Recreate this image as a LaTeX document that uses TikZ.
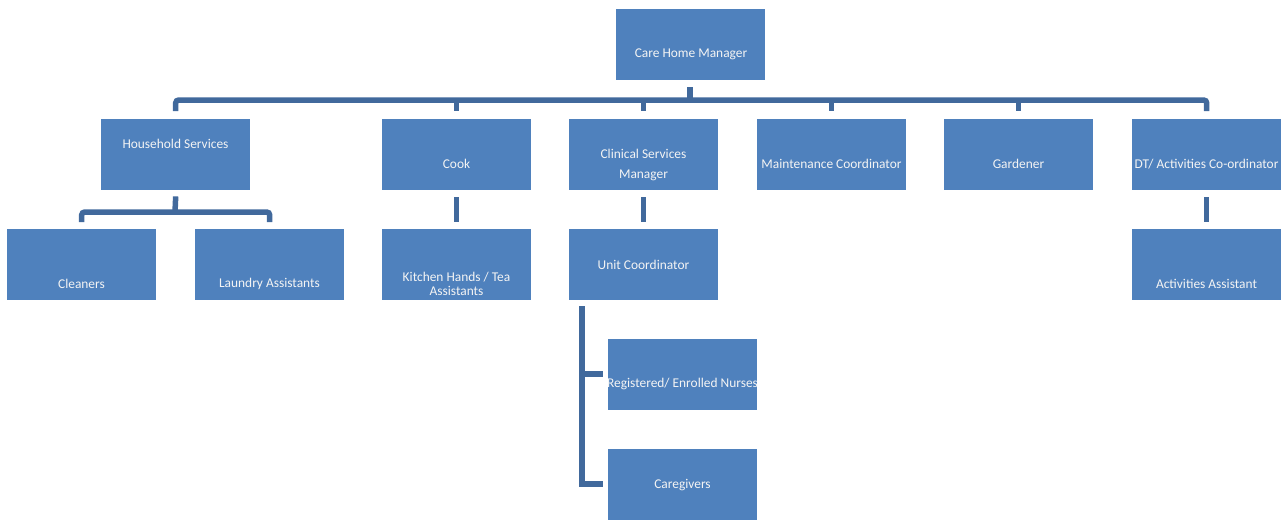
\documentclass[tikz,border=0pt]{standalone}
\usepackage{fontspec}
\setmainfont{Carlito}
\definecolor{boxblue}{HTML}{4F81BD}
\definecolor{linkblue}{HTML}{41699C}
\definecolor{txtwhite}{HTML}{F4F4F4}
\begin{document}
\begin{tikzpicture}[x=1pt,y=-1pt,
  box/.style={fill=boxblue, draw=none, minimum width=149pt, minimum height=71pt, inner sep=0pt, anchor=north west},
  txt/.style={text=txtwhite, font=\fontsize{13.4}{15}\selectfont, inner sep=0pt, align=center},
  conn/.style={draw=linkblue, line width=5.5pt, rounded corners=3pt}]
\useasboundingbox (0,0) rectangle (1286,520);
% boxes
\node[box] (chm) at (616,9) {};
\node[box] (hs) at (101,119) {};
\node[box] (cook) at (382,119) {};
\node[box] (csm) at (569,119) {};
\node[box] (mc) at (757,119) {};
\node[box] (gard) at (944,119) {};
\node[box] (dt) at (1132,119) {};
\node[box] (cl) at (7,229) {};
\node[box] (la) at (195,229) {};
\node[box] (kh) at (382,229) {};
\node[box] (uc) at (569,229) {};
\node[box] (aa) at (1132,229) {};
\node[box] (rn) at (608,339) {};
\node[box] (cg) at (608,449) {};
% texts
\node[txt] at (691,54) {Care Home Manager};
\node[txt] at (175.5,144) {Household Services};
\node[txt] at (456.5,164) {Cook};
\node[txt] at (643.5,154) {Clinical Services};
\node[txt] at (643.5,175) {Manager};
\node[txt] at (831.5,164) {Maintenance Coordinator};
\node[txt] at (1018.5,164) {Gardener};
\node[txt] at (1206.5,164) {DT/ Activities Co-ordinator};
\node[txt] at (81.5,284) {Cleaners};
\node[txt] at (269.5,284) {Laundry Assistants};
\node[txt] at (456.5,277) {Kitchen Hands / Tea};
\node[txt] at (456.5,291) {Assistants};
\node[txt] at (643.5,265) {Unit Coordinator};
\node[txt] at (1206.5,284) {Activities Assistant};
\node[txt] at (682.5,384) {Registered/ Enrolled Nurses};
\node[txt] at (682.5,485) {Caregivers};
% connectors
\coordinate (bus) at (690,100);
\draw[conn, rounded corners=0pt] ([yshift=-7pt]chm.south -| bus) -- (bus);
\draw[conn] ([yshift=8pt]hs.north) |- (bus) -| ([yshift=8pt]dt.north);
\foreach \n in {cook,csm,mc,gard}{
  \draw[conn, rounded corners=0pt] (\n.north |- bus) -- ([yshift=8pt]\n.north);
}
\coordinate (hbus) at (175,212);
\draw[conn, rounded corners=0pt] ([yshift=-6pt]hs.south) -- (hbus);
\draw[conn] ([yshift=7pt]cl.north) |- (hbus) -| ([yshift=7pt]la.north);
\draw[conn, rounded corners=0pt] ([yshift=-7pt]cook.south) -- ([yshift=7pt]kh.north);
\draw[conn, rounded corners=0pt] ([yshift=-7pt]csm.south) -- ([yshift=7pt]uc.north);
\draw[conn, rounded corners=0pt] ([yshift=-7pt]dt.south) -- ([yshift=7pt]aa.north);
\coordinate (ucv) at (582,306);
\draw[conn, rounded corners=0pt] (ucv) -- (582,484) -- ([xshift=-5pt]cg.west |- 0,484);
\draw[conn, rounded corners=0pt] (582,374) -- ([xshift=-5pt]rn.west |- 0,374);
\end{tikzpicture}
\end{document}
